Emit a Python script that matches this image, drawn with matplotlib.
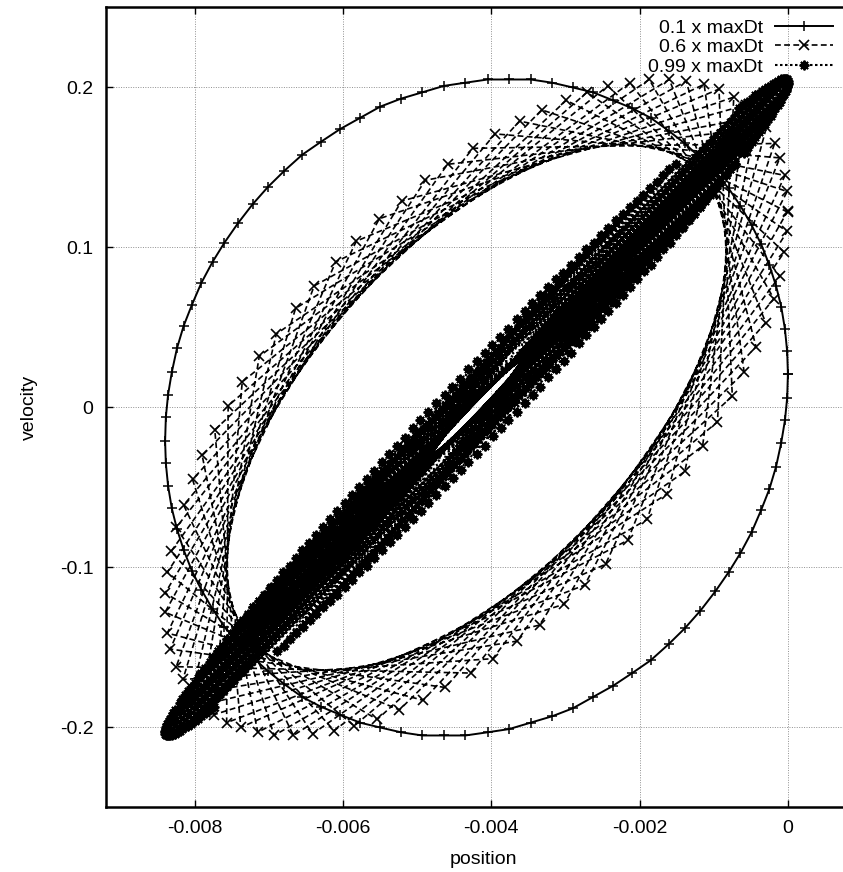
import matplotlib
matplotlib.use("Agg")
import matplotlib.pyplot as plt

# phase-space samples (position, velocity)
labels = ['0.1 x maxDt', '0.6 x maxDt', '0.99 x maxDt']

pos_01 = [0.0, -0.00001, -0.00004, -0.00009, -0.00016, -0.00025, -0.00036, -0.00049,
          -0.00064, -0.00080, -0.00098, -0.00118, -0.00139, -0.00161, -0.00185, -0.00210,
          -0.00236, -0.00263, -0.00290, -0.00318, -0.00347, -0.00376, -0.00405,
          -0.00435, -0.00464, -0.00493, -0.00522, -0.00550, -0.00577, -0.00604, -0.00630,
          -0.00655, -0.00679, -0.00701, -0.00722, -0.00742, -0.00760, -0.00776, -0.00791,
          -0.00804, -0.00815, -0.00824, -0.00831, -0.00836, -0.00839, -0.00840,
          -0.00839, -0.00836, -0.00831, -0.00824, -0.00815, -0.00804, -0.00791, -0.00776,
          -0.00760, -0.00742, -0.00722, -0.00701, -0.00679, -0.00655, -0.00630, -0.00604,
          -0.00577, -0.00550, -0.00522, -0.00493, -0.00464, -0.00435,
          -0.00405, -0.00376, -0.00347, -0.00318, -0.00290, -0.00263, -0.00236, -0.00210,
          -0.00185, -0.00161, -0.00139, -0.00118, -0.00098, -0.00080, -0.00064, -0.00049,
          -0.00036, -0.00025, -0.00016, -0.00009, -0.00004, -0.00001, 0.0]
vel_01 = [0.021, 0.035, 0.049, 0.063, 0.076, 0.089, 0.102, 0.114,
          0.126, 0.137, 0.147, 0.156, 0.165, 0.173, 0.181, 0.187,
          0.192, 0.197, 0.200, 0.203, 0.205, 0.205, 0.205,
          0.203, 0.201, 0.197, 0.193, 0.188, 0.181, 0.174, 0.166,
          0.158, 0.148, 0.138, 0.127, 0.115, 0.103, 0.091, 0.078,
          0.064, 0.051, 0.037, 0.022, 0.008, -0.006, -0.021,
          -0.035, -0.049, -0.063, -0.076, -0.089, -0.102, -0.114, -0.126,
          -0.137, -0.147, -0.156, -0.165, -0.173, -0.181, -0.187, -0.192,
          -0.197, -0.200, -0.203, -0.205, -0.205, -0.205,
          -0.203, -0.201, -0.197, -0.193, -0.188, -0.181, -0.174, -0.166,
          -0.158, -0.148, -0.138, -0.127, -0.115, -0.103, -0.091, -0.078,
          -0.064, -0.051, -0.037, -0.022, -0.008, 0.006, 0.021]

pos_06 = [0.0, -0.00302, -0.00774, -0.00736, -0.00243, -0.00005, -0.00365, -0.00804,
          -0.00690, -0.00187, -0.00019, -0.00428, -0.00825, -0.00639, -0.00137, -0.00043,
          -0.00492, -0.00837, -0.00582, -0.00093, -0.00075, -0.00554, -0.00840, -0.00521,
          -0.00057, -0.00115, -0.00612, -0.00832, -0.00459, -0.00029, -0.00163, -0.00667,
          -0.00815, -0.00395, -0.00011, -0.00216, -0.00715, -0.00790, -0.00332, -0.00001,
          -0.00274, -0.00757, -0.00755, -0.00271, -0.00001, -0.00335, -0.00791, -0.00713,
          -0.00213, -0.00011, -0.00398, -0.00816, -0.00664, -0.00160, -0.00030, -0.00462,
          -0.00833, -0.00610, -0.00113, -0.00059, -0.00524, -0.00840, -0.00551, -0.00073,
          -0.00095, -0.00585, -0.00837, -0.00489, -0.00041, -0.00139, -0.00641, -0.00825,
          -0.00425, -0.00018, -0.00190, -0.00693, -0.00803, -0.00362, -0.00004, -0.00246,
          -0.00738, -0.00773, -0.00299, 0.0]
vel_06 = [0.123, -0.123, -0.192, 0.016, 0.201, 0.097, -0.146, -0.179,
          0.046, 0.205, 0.068, -0.166, -0.162, 0.076, 0.204, 0.038,
          -0.183, -0.141, 0.104, 0.199, 0.007, -0.195, -0.116, 0.129,
          0.189, -0.024, -0.202, -0.090, 0.152, 0.175, -0.054, -0.205,
          -0.061, 0.171, 0.156, -0.083, -0.203, -0.030, 0.186, 0.135,
          -0.111, -0.197, 0.001, 0.197, 0.110, -0.136, -0.186, 0.032,
          0.203, 0.082, -0.157, -0.170, 0.062, 0.205, 0.053, -0.175,
          -0.151, 0.091, 0.202, 0.022, -0.189, -0.128, 0.118, 0.194,
          -0.009, -0.199, -0.103, 0.142, 0.182, -0.040, -0.204, -0.075,
          0.162, 0.165, -0.070, -0.205, -0.045, 0.179, 0.145, -0.098,
          -0.200, -0.014, 0.192, 0.122]

# 0.99 x maxDt: eleven samples per row, rows in time order
pos_099 = [0.0, -0.00823, -0.00066, -0.00697, -0.00242, -0.00485, -0.00474, -0.00252, -0.00689, -0.00072, -0.00820,
           -0.0, -0.00826, -0.00060, -0.00705, -0.00232, -0.00495, -0.00463, -0.00262, -0.00681, -0.00078, -0.00817,
           -0.00001, -0.00829, -0.00055, -0.00713, -0.00223, -0.00506, -0.00453, -0.00272, -0.00672, -0.00084, -0.00813,
           -0.00001, -0.00831, -0.00049, -0.00721, -0.00213, -0.00516, -0.00442, -0.00282, -0.00663, -0.00091, -0.00809,
           -0.00002, -0.00833, -0.00044, -0.00728, -0.00204, -0.00527, -0.00431, -0.00292, -0.00655, -0.00097, -0.00805,
           -0.00003, -0.00835, -0.00040, -0.00735, -0.00195, -0.00537, -0.00420, -0.00302, -0.00646, -0.00104, -0.00800,
           -0.00005, -0.00836, -0.00035, -0.00742, -0.00186, -0.00547, -0.00409, -0.00313, -0.00636, -0.00112, -0.00796,
           -0.00007, -0.00838, -0.00031, -0.00749, -0.00177, -0.00558, -0.00399, -0.00323, -0.00627, -0.00119, -0.00791,
           -0.00009, -0.00839, -0.00027, -0.00756, -0.00168, -0.00568, -0.00388, -0.00334, -0.00618, -0.00127, -0.00786,
           -0.00011, -0.00839, -0.00023, -0.00762, -0.00160, -0.00578, -0.00377, -0.00344, -0.00608, -0.00134, -0.00780,
           -0.00014, -0.00840, -0.00020, -0.00768, -0.00151, -0.00588, -0.00366, -0.00355, -0.00598, -0.00142, -0.00775,
           -0.00017, -0.00840, -0.00017, -0.00774, -0.00143, -0.00598, -0.00355, -0.00366, -0.00588, -0.00151, -0.00768,
           -0.00020, -0.00840, -0.00014, -0.00780, -0.00135, -0.00608, -0.00345, -0.00377, -0.00578, -0.00159, -0.00762,
           -0.00023, -0.00839, -0.00011, -0.00785, -0.00127, -0.00617, -0.00334, -0.00387, -0.00568, -0.00168, -0.00756,
           -0.00027, -0.00839, -0.00009, -0.00791, -0.00119, -0.00627, -0.00324, -0.00398, -0.00558, -0.00177, -0.00749,
           -0.00031, -0.00838, -0.00007, -0.00796, -0.00112, -0.00636, -0.00313, -0.00409, -0.00548, -0.00185, -0.00743,
           -0.00035, -0.00837, -0.00005, -0.00800, -0.00105, -0.00645, -0.00303, -0.00420, -0.00538, -0.00194, -0.00736,
           -0.00039, -0.00835, -0.00004, -0.00805, -0.00098, -0.00654, -0.00293, -0.00431, -0.00527, -0.00204, -0.00728,
           -0.00044, -0.00833, -0.00002, -0.00809, -0.00091, -0.00663, -0.00282, -0.00441, -0.00517, -0.00213, -0.00721,
           -0.00049, -0.00831, -0.00001, -0.00813, -0.00084, -0.00672, -0.00272, -0.00452, -0.00506, -0.00222, -0.00713,
           -0.00054, -0.00829, -0.00001, -0.00817, -0.00078, -0.00680, -0.00262, -0.00463, -0.00496, -0.00232, -0.00706,
           -0.00059, -0.00826, 0.0, -0.00820, -0.00072, -0.00689, -0.00252, -0.00474, -0.00485, -0.00242, -0.00698]
vel_099 = [0.203, -0.203, 0.187, -0.112, 0.112, -0.060, 0.003, 0.055, -0.108, 0.152, -0.185,
           0.202, -0.204, 0.189, -0.117, 0.117, -0.065, 0.008, 0.050, -0.103, 0.149, -0.182,
           0.201, -0.204, 0.191, -0.121, 0.121, -0.070, 0.013, 0.045, -0.099, 0.145, -0.180,
           0.200, -0.205, 0.193, -0.125, 0.125, -0.075, 0.018, 0.040, -0.094, 0.141, -0.177,
           0.199, -0.205, 0.195, -0.129, 0.129, -0.080, 0.024, 0.034, -0.089, 0.137, -0.175,
           0.198, -0.205, 0.196, -0.133, 0.133, -0.084, 0.029, 0.029, -0.085, 0.134, -0.172,
           0.196, -0.205, 0.198, -0.137, 0.137, -0.089, 0.034, 0.024, -0.080, 0.130, -0.169,
           0.195, -0.205, 0.199, -0.141, 0.141, -0.094, 0.039, 0.019, -0.075, 0.125, -0.166,
           0.193, -0.205, 0.200, -0.145, 0.145, -0.099, 0.044, 0.013, -0.070, 0.121, -0.163,
           0.191, -0.204, 0.201, -0.149, 0.149, -0.103, 0.049, 0.008, -0.065, 0.117, -0.159,
           0.189, -0.204, 0.202, -0.152, 0.152, -0.108, 0.055, 0.003, -0.060, 0.113, -0.156,
           0.187, -0.203, 0.203, -0.187, 0.112, -0.112, 0.060, -0.003, -0.055, 0.108, -0.152,
           0.185, -0.202, 0.204, -0.189, 0.117, -0.117, 0.065, -0.008, -0.050, 0.103, -0.149,
           0.182, -0.201, 0.204, -0.191, 0.121, -0.121, 0.070, -0.013, -0.045, 0.099, -0.145,
           0.180, -0.200, 0.205, -0.193, 0.125, -0.125, 0.075, -0.018, -0.040, 0.094, -0.141,
           0.177, -0.199, 0.205, -0.195, 0.129, -0.129, 0.080, -0.024, -0.034, 0.089, -0.137,
           0.175, -0.198, 0.205, -0.196, 0.133, -0.133, 0.084, -0.029, -0.029, 0.085, -0.134,
           0.172, -0.196, 0.205, -0.198, 0.137, -0.137, 0.089, -0.034, -0.024, 0.080, -0.130,
           0.169, -0.195, 0.205, -0.199, 0.141, -0.141, 0.094, -0.039, -0.019, 0.075, -0.125,
           0.166, -0.193, 0.205, -0.200, 0.145, -0.145, 0.099, -0.044, -0.013, 0.070, -0.121,
           0.163, -0.191, 0.204, -0.201, 0.149, -0.149, 0.103, -0.049, -0.008, 0.065, -0.117,
           0.159, -0.189, 0.204, -0.202, 0.152, -0.152, 0.108, -0.055, -0.003, 0.060, -0.113]

x_ticks = [-0.008, -0.006, -0.004, -0.002, 0.0]
x_ticklabels = ['-0.008', '-0.006', '-0.004', '-0.002', '0']
y_ticks = [-0.2, -0.1, 0.0, 0.1, 0.2]
y_ticklabels = ['-0.2', '-0.1', '0', '0.1', '0.2']

plt.rcParams['font.family'] = ['Liberation Sans', 'DejaVu Sans']

fig = plt.figure(figsize=(8.43, 8.72), dpi=100)
# axes runs past the right edge of the picture, like the cropped original
ax = fig.add_axes([0.1255, 0.074, 0.8971, 0.9174])

ax.plot(pos_01, vel_01, color='black', lw=1.4, ls='-',
        marker='+', ms=7, mew=1.1, label=labels[0])
ax.plot(pos_06, vel_06, color='black', lw=1.2, ls=(0, (3.5, 2)),
        marker='x', ms=6.5, mew=1.2, label=labels[1])
ax.plot(pos_099, vel_099, color='black', lw=1.5, ls=(0, (1.2, 1.2)),
        marker=(8, 2, 0), ms=7, mew=1.4, label=labels[2])

ax.set_xlim(-0.0092, 0.001)
ax.set_ylim(-0.25, 0.25)
ax.set_xticks(x_ticks, x_ticklabels)
ax.set_yticks(y_ticks, y_ticklabels)
ax.tick_params(direction='in', length=5, width=1.0, top=True, right=True,
               labelsize=14, pad=9)
ax.set_axisbelow(True)
ax.grid(True, color='#909090', ls=(0, (1, 1.5)), lw=0.7)
for s in ax.spines.values():
    s.set_linewidth(1.8)

ax.set_xlabel('position', fontsize=14, labelpad=10)
ax.set_ylabel('velocity', fontsize=14, labelpad=16)

ax.legend(loc='upper right', bbox_to_anchor=(833 / 843, 1 - 19 / 872),
          bbox_transform=fig.transFigure, frameon=False, markerfirst=False,
          handlelength=3.0, handletextpad=0.6, labelspacing=0.1,
          borderpad=0, borderaxespad=0, fontsize=14)

fig.savefig('out.png', dpi=100)
